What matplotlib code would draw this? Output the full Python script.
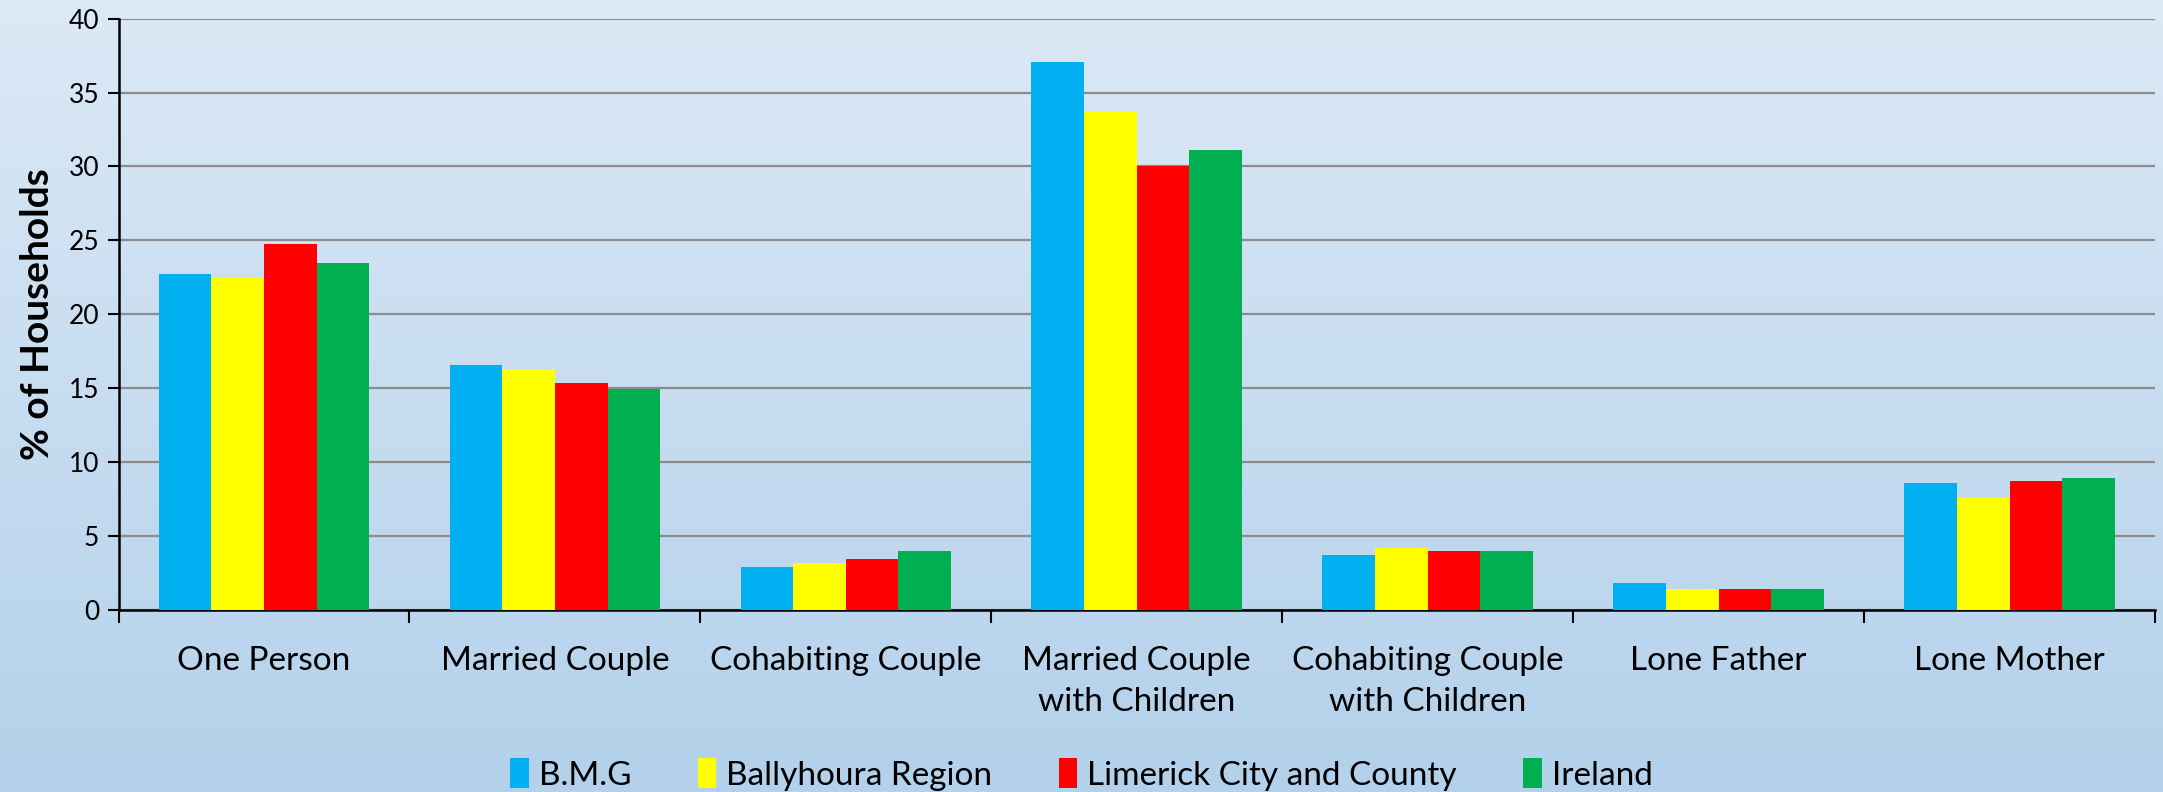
import numpy as np
import matplotlib

matplotlib.use("Agg")
import matplotlib.pyplot as plt

categories = [
    "One Person",
    "Married Couple",
    "Cohabiting Couple",
    "Married Couple\nwith Children",
    "Cohabiting Couple\nwith Children",
    "Lone Father",
    "Lone Mother",
]
series_names = ["B.M.G", "Ballyhoura Region", "Limerick City and County", "Ireland"]
bmg = [22.7, 16.6, 2.9, 37.05, 3.7, 1.8, 8.6]
ballyhoura = [22.45, 16.3, 3.2, 33.75, 4.2, 1.4, 7.6]
limerick = [24.75, 15.35, 3.45, 30.0, 4.0, 1.45, 8.75]
ireland = [23.5, 14.95, 4.0, 31.1, 4.0, 1.4, 8.95]
colors = ["#00B0F0", "#FFFF00", "#FF0000", "#00B050"]

plt.rcParams["font.family"] = ["Lato", "DejaVu Sans"]

fig = plt.figure(figsize=(21.63, 7.92), dpi=100)

# gradient background over the whole figure
bg = fig.add_axes([0, 0, 1, 1], zorder=-10)
grad = np.linspace(0, 1, 256).reshape(-1, 1)
top = np.array([0xDC, 0xE9, 0xF6]) / 255
bottom = np.array([0xB3, 0xD1, 0xEB]) / 255
img = top + (bottom - top) * grad[..., None]
bg.imshow(img, aspect="auto", extent=[0, 1, 0, 1])
bg.set_axis_off()

ax = fig.add_axes([0.0548, 0.2298, 0.9415, 0.7467])
ax.set_facecolor("none")

x = np.arange(len(categories))
width = 0.181
values = [bmg, ballyhoura, limerick, ireland]
for i, (name, vals, c) in enumerate(zip(series_names, values, colors)):
    ax.bar(x + (i - 1.5) * width, vals, width, color=c, label=name, zorder=3)

ax.set_xlim(-0.5, len(categories) - 0.5)
ax.set_ylim(0, 40)
ax.set_yticks(range(0, 41, 5))
ax.yaxis.grid(True, color="#8c8c8c", linewidth=1.6, zorder=0)
ax.set_axisbelow(True)

ax.set_xticks(x)
ax.set_xticklabels(categories, fontsize=24, linespacing=1.45)
ax.set_xticks(np.arange(-0.5, len(categories)), minor=True)
ax.tick_params(axis="x", which="major", length=0, pad=26)
ax.tick_params(axis="x", which="minor", length=9, width=1.5, direction="out")
ax.tick_params(axis="y", length=8, width=1.5, labelsize=19, pad=6)

for side in ["top", "right"]:
    ax.spines[side].set_visible(False)
for side in ["left", "bottom"]:
    ax.spines[side].set_linewidth(1.8)
    ax.spines[side].set_color("black")

ax.set_ylabel("% of Households", fontsize=28, fontweight="bold", labelpad=10)

fig.legend(
    loc="lower center",
    bbox_to_anchor=(0.5, -0.036),
    ncol=4,
    frameon=False,
    fontsize=24,
    handlelength=0.55,
    handleheight=1.0,
    handletextpad=0.3,
    columnspacing=2.0,
)

fig.savefig("out.png", dpi=100)
